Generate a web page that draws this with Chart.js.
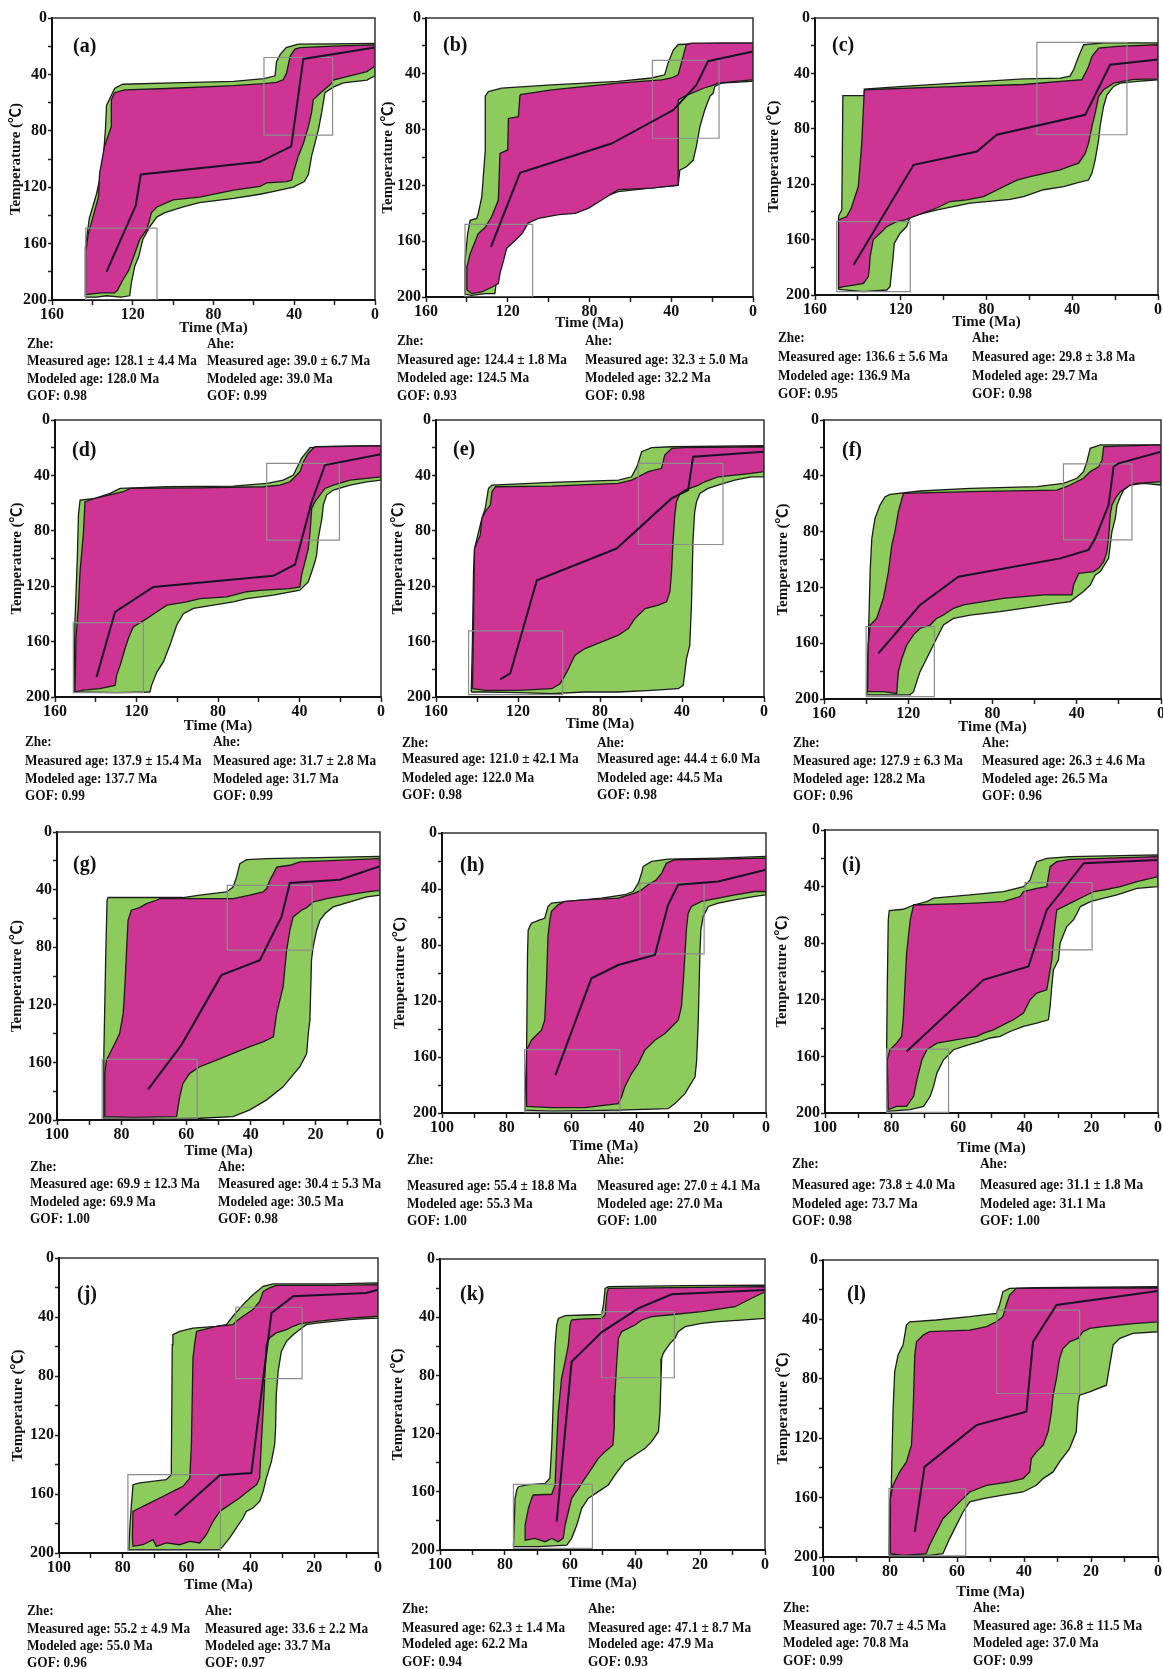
<!DOCTYPE html>
<html>
<head>
<meta charset="utf-8">
<script src="https://cdn.jsdelivr.net/npm/chart.js@4.4.1/dist/chart.umd.min.js"></script>
<style>
  body { margin: 0; width: 1163px; height: 1669px; overflow: hidden; background: #fff; position: relative;
         font-family: 'Liberation Serif', 'Times New Roman', serif; color: #111; }
  canvas { position: absolute; }
  .lbl { position: absolute; font-size: 20px; font-weight: bold; line-height: 22px; transform: scaleY(1.1); }
  .st { position: absolute; white-space: nowrap; font-size: 13.3px; font-weight: bold; line-height: 16px;
        transform: scaleY(1.14); transform-origin: left center; }
</style>
</head>
<body>
<script>
// ── Envelopes: [time Ma, temperature °C] ──
const greenA = [[143.5,198],[143.5,163],[141.5,142],[138,125],[136,112],[134.5,98],[133.5,78],[133,62],[131,56],[129,50],[125,47],[100,46],[70,45],[55,43],[49.5,41],[48.8,31],[47,26],[44,21],[38,18.5],[20,18.3],[0,18],[0,41],[4,44],[15.7,46],[20.7,49],[24.8,53],[26.4,67],[28,79],[31.4,98],[33,111],[35,116],[40.5,120],[50,123],[57,125],[70,128],[87,131],[95,134],[104,138],[108,141],[111.5,148],[115,157],[117,169],[119,176],[120.7,188],[121.5,197],[126,198],[133,197],[138,198]];
const pinkA = [[143.3,196],[143.3,166],[142,153],[139.7,141],[137,127],[136.4,110],[134,91],[130.6,77],[130.6,58],[129,53],[124,51],[103,50],[70,48],[55,46.6],[48.8,45.7],[45.5,43.8],[43.8,39],[42,27],[39.7,22],[37,21],[20.7,20],[0,19],[0,34],[4,38],[12.4,41],[20.7,44],[22,47],[27,53],[30.6,58],[31.4,67],[33,77],[35.5,89],[38,98],[40.5,110],[41.3,115],[43.8,116],[53.7,117],[57,119.5],[70,122],[87,127],[100,129],[108,134],[110.7,138],[113,150],[116.5,157],[119,167],[122,179],[125,186],[127.5,193],[129,195],[136,195],[142,196]];
const pathA = [[0,21],[35.5,29],[41.5,91],[57,102],[116,111],[118.5,133],[133,180]];
const boxesA = [[21,55,28,83],[108,143.3,149,200]];

const greenB = [[140.9,198],[140.9,174],[139.6,154.5],[138.4,145],[135.2,143.7],[134.4,140],[132.7,128],[131,95],[131,56],[129.5,52.7],[123,50.3],[98.5,48],[66,45.5],[49.7,43],[43.2,40.7],[41.5,32],[39,23],[36.6,19],[17,18],[0,18],[0,44.3],[0.8,45.5],[15.5,46.7],[18.7,49],[19.5,54],[21,56],[23.6,66],[26,78],[27.7,92],[29.3,102],[32.6,106.6],[35.8,109],[36.6,120],[44.8,121],[66,124.5],[72.5,128],[75.7,130.5],[98.5,133],[105,135],[108,140],[111.6,145],[114.8,152],[118,159],[121,164],[123,169],[123.8,176],[125.5,188],[126.3,197.6],[131,197.6],[137.6,198.8]];
const pinkB = [[114,55],[114.8,70.7],[119.7,72],[120,94.6],[123.8,97],[124.6,130.5],[127.9,142.5],[131,150],[134.4,154.5],[138.4,169],[140,178.6],[140,195],[137.6,197.6],[132.7,196.4],[127.9,193],[124.6,190.4],[123.8,183],[122,173.6],[120.5,165],[116,159],[113,154.5],[110,147],[105,143.7],[95,141],[87,140],[80.6,136.5],[74,130.5],[66,123],[49.7,122],[36.6,119.8],[36.6,58.7],[33.4,56],[23.6,50],[20.4,48.6],[17,46.7],[0.8,44.3],[0,44.3],[0,18],[30,18],[32.6,19],[34.2,27.5],[36.6,40.7],[40,43],[44.8,44.3],[66,46.7],[98.5,51.5]];
const pathB = [[0,24],[22,31],[27.7,48],[39,66],[69.2,90],[114,111],[128.2,164]];
const boxesB = [[16.6,49.2,30.4,86.2],[107.8,140.9,148,200]];

const greenC = [[149,196],[149,143],[147.5,138.5],[147,56],[137,56],[137,51.3],[118.8,49.4],[62.7,44],[45.6,43.4],[41,42],[39.3,37],[37,27.7],[34.7,19.3],[25.4,18],[0,18],[0,44.6],[9.8,45.8],[17.6,47],[20.7,49.4],[23.8,55.4],[25.4,63.9],[27,78],[27.7,88],[29.3,102.4],[30.8,112],[32.4,117],[37.8,119],[44,121.7],[53.4,124],[62.7,129],[69,131],[87.6,133.7],[103,138.5],[115.6,143.4],[117.2,150.6],[120.3,155.4],[123,162.7],[123.7,174.7],[125,194],[126.5,196.4],[137.4,197.6]];
const pinkC = [[137,51.8],[103,49.9],[62.7,48],[45.6,45.8],[35.5,44.6],[33.9,39.8],[32.4,35],[30.8,27.7],[27.7,21.7],[19,20.5],[0,19.3],[0,44],[11.4,44.3],[20.7,47],[25.4,51.8],[27.7,56.6],[29.3,68.7],[30.8,78.3],[32.4,90.4],[33.9,97.6],[37,104.8],[41,107],[45.6,109.6],[59.6,114.5],[65.8,117],[72,121.7],[81.4,129],[89.2,131.3],[97,132.5],[103,137],[110,141],[118,145.8],[121.9,147],[126.5,150.6],[129.6,155.4],[132.8,160],[134.3,172.3],[134.6,179.5],[135.1,186.7],[137.4,191.6],[142,192.8],[146.8,194],[149,195],[149,145.8],[145.2,143.4],[143,137],[139.8,121.7],[138.2,90.4]];
const pathC = [[0,30],[22.3,33.7],[33.9,69.9],[75.2,84.3],[84.5,96.4],[114,106],[142,178.3]];
const boxesC = [[14.5,56.5,17.6,84.3],[115.6,149.9,147,197.6]];

const greenD = [[150.7,196.4],[150.2,145.8],[149,97.6],[148.5,68.7],[147.7,57.8],[140.4,56.6],[133,53],[128,49.4],[105,48.2],[72.5,47.7],[56,45.8],[48,43.4],[43,39.8],[40.6,32.5],[39,27.7],[34.8,20],[26.7,19.3],[0,18.6],[0,43.4],[7,44.6],[15.2,47],[23.4,50.6],[26.7,54.2],[28.3,61.4],[29,71],[30.8,85.5],[31.6,97.6],[32.4,102.4],[34,109.6],[35.7,116.9],[39.8,122.9],[52.8,126.5],[65.9,129],[72.5,131.3],[82.3,133.7],[92,136],[97,139.8],[100.3,148.2],[103.6,162.7],[106.8,174.7],[110,182],[112.6,191.6],[113.4,196.4],[129.7,196.9]];
const pinkD = [[140.4,56.6],[126.5,51.8],[123,49.4],[88.8,49],[57.8,48.2],[49.6,47],[44.7,44.6],[42.2,41],[39.8,37.3],[38,30],[35.7,24],[32.4,19.3],[0,18.6],[0,41],[15.2,43.4],[23.4,47],[27.5,49.4],[30,54.2],[32.4,59],[34,63.9],[34.8,80.7],[35.7,92.8],[37.3,102.4],[39,112],[39.8,120.5],[44.7,121.7],[59.4,123],[65.9,124],[75.7,127.7],[88.8,129],[95.4,131.3],[105,133.7],[110,138.5],[115,143.4],[121.6,149.4],[124,157.8],[125.6,165],[128,177],[129.7,184],[130.5,191.6],[138,194],[146,195],[150.2,196.4],[149.7,157.8],[148.5,133.7],[147.7,109.6],[146,80.7],[145.3,59]];
const pathD = [[0,24.8],[27.5,32.5],[34,59],[42.2,104.3],[52.8,112.5],[111.7,120.5],[130.5,138.5],[139.6,185.5]];
const boxesD = [[20.4,56.1,31.3,86.7],[116.6,151,146.3,196.9]];

const greenE = [[142.8,196.4],[142.2,157.8],[141.7,109.6],[141.2,92.8],[139.2,80.7],[137.6,71],[136,63.9],[134.4,49.4],[132.7,47],[103.5,45],[71,43.4],[64.6,41],[62,33.7],[59.7,22.9],[54.8,20],[45,19.3],[0,18.6],[0,41],[6.2,41],[14.3,43.4],[22.4,47],[27.3,49.4],[31.3,53],[32.9,59],[33.8,66.3],[34.6,85.5],[35.4,133.7],[36.2,162.7],[37.8,172.3],[38.6,182],[39.4,191.6],[41.9,194],[54.8,195.2],[71,196.4],[87.3,196.4],[103.5,197.6],[119.8,196.9],[136,196.4]];
const pinkE = [[142.2,194],[141.7,145.8],[141.2,92.8],[138.4,83],[137.6,71],[136,66.3],[133.5,61.4],[132.7,51.8],[131,48.2],[103.5,47.7],[71,45.8],[64.6,43.4],[61.3,41],[56.5,37.3],[50,34.9],[48.4,25.3],[45,20.5],[38.6,20],[0,19.3],[0,37.3],[6.2,38.6],[22.4,41],[28.9,44.6],[32,47],[38.6,50.6],[41,53],[42.7,59],[43.5,68.7],[44.3,85.5],[45.1,109.6],[45.9,124],[47.5,131.3],[51.6,133.7],[58,136.1],[63,143.4],[66.2,150.6],[71,155.4],[79.2,160.2],[87.3,165],[92.2,169.9],[96.2,182],[99.5,190.4],[103.5,194],[119.8,195.2],[136,195.2]];
const pathE = [[0,22.9],[34.6,26.5],[37,50.6],[45.1,56.6],[71.9,92.8],[110.8,115.7],[123.8,183],[128.7,187.2]];
const boxesE = [[20,61.3,31.3,89.9],[98.2,144.1,152.3,198.3]];

const greenF = [[139.7,197],[139,161.3],[138.1,108.7],[137.3,84.8],[135.8,70.5],[133.4,61],[131,55],[128.6,53.3],[114.4,50.9],[90.6,49],[58.9,47.8],[46.3,45.4],[39.9,41.8],[36.8,37],[35.2,29.9],[33.6,20.3],[28.8,17.9],[0,17.9],[0,46.6],[8.2,45.4],[14.6,46.6],[17.7,50.2],[19.3,55],[20.9,61],[21.7,70.5],[23.3,80],[24.1,89.6],[24.9,99.2],[28.8,108.7],[31.2,111.1],[33.6,118.3],[36.8,123],[43.1,130.2],[49.4,131.4],[76.4,137.4],[90.6,139.8],[98.5,142.2],[103.3,147],[106.5,156.5],[111.2,170.8],[114.4,180.4],[116,187.6],[117.5,194.7],[119.1,197],[130.2,197]];
const pinkF = [[122.3,52.6],[124.7,65.7],[126.3,80],[127.8,89.6],[129.4,108.7],[131.8,127.8],[135,142.2],[138.1,147],[139,161.3],[139.3,194.7],[131.8,194.7],[125.5,196],[124.7,180.4],[123,170.8],[120.7,161.3],[117.5,154],[114.4,149.3],[109.6,147],[106.5,142.2],[103.3,139.8],[98.5,135],[93.8,132.6],[74.8,127.8],[55.8,125.4],[42.3,125.4],[41.5,118.3],[39.1,110],[32,108.7],[29.6,106.3],[27.2,101.6],[25.7,94.4],[24.9,84.8],[24.1,68.1],[23.3,61],[21.7,56.2],[19.3,51.4],[14.6,46.6],[11.4,45.4],[0,44.2],[0,17.9],[27.2,19.1],[28,28.7],[29.6,33.5],[33.6,37],[36.8,41.8],[43.1,46.6],[49.4,50.2],[90.6,51.4]];
const pathF = [[0,22.7],[20.1,31.1],[22.5,33.5],[24.9,61],[31.2,84.8],[34.4,93.2],[47.8,99.2],[96.2,112.3],[114.4,132.6],[134.2,167.3]];
const boxesF = [[13.8,46.3,31.5,86],[107.6,140,148.1,198.3]];

const greenG = [[85.7,198.8],[85.5,153.8],[84.9,84.4],[84.5,47.4],[84.2,45.5],[76.4,45.5],[61,45.5],[55.8,43.9],[47.5,41.6],[45.5,38.2],[44.4,31.2],[43.4,22],[41.3,19.2],[35.1,18.5],[0,16.9],[0,43.9],[4.1,45.1],[9.3,48.6],[14.5,52],[17,56.6],[18.6,61.3],[19.6,68.2],[20.7,79.8],[21.2,89],[21.7,130.6],[22.2,139.9],[22.7,153.8],[24.8,163],[30,177],[35.1,186],[40.3,193],[45.5,197.7],[55.8,198.8],[66.1,199.3]];
const pinkG = [[85.2,197.7],[85.2,167.6],[84.7,158.4],[82.6,149.1],[80.6,139.9],[79.5,126],[79,107.5],[78.5,84.4],[78,61.3],[77,54.3],[74.4,52.5],[72.3,49.7],[69.2,47.4],[68.2,46.2],[45.5,46.2],[40.3,43.9],[36.2,41.6],[35.1,39.3],[34.1,33.5],[33,28.9],[32,24.3],[27.9,23.1],[24.8,20.8],[0,18.5],[0,40.5],[4.1,41.6],[10.3,43.9],[16.5,46.2],[18.6,47.4],[20.7,48.6],[22.7,52.5],[24.3,54.3],[26.9,59],[27.9,68.2],[28.9,82.1],[29.4,93.6],[30,107.5],[31,116.8],[32,126],[33,142.2],[36.2,145.7],[40.3,149.1],[45.5,153.8],[50.6,158.4],[55.8,163],[58.9,167.6],[61,174.6],[62,183.8],[63,197.7],[76.4,198.2]];
const pathG = [[0,23.8],[12.4,33.1],[27.9,35.4],[30.5,59],[37.2,89],[49.1,99.4],[61.5,148],[71.8,178.7]];
const boxesG = [[21,47.3,37,82.1],[56.6,86,157.9,198.8]];

const greenH = [[74.5,198],[73.9,157.5],[73.6,85.9],[73.4,69.2],[72.4,64.4],[69.8,62],[68.3,60.9],[67.3,52.5],[66.2,50.1],[61.1,48.9],[50.8,46.5],[43.6,44.1],[41,41.8],[39.4,35.8],[38.4,28.6],[37.9,23.9],[35.3,20.3],[30.2,18.6],[14.7,17.9],[0,16.7],[0,44.2],[3.4,45.3],[9.6,47.7],[14.7,50.1],[17.8,52.5],[19.4,59.7],[20.1,69.2],[20.4,85.9],[20.9,133.7],[21.4,162.3],[21.9,174.2],[25,186.2],[28.1,193.3],[30.2,196.9],[45.6,198],[66.2,198.6]];
const pinkH = [[73.9,193.3],[73.9,155.1],[72.4,148],[69.3,140.8],[68.3,133.7],[67.8,109.8],[67.3,74],[66.7,62],[66.2,56],[64.2,51.3],[62.1,48.9],[55.9,47.7],[45.6,46.5],[40.5,43],[38.4,40.6],[36.4,37],[33.8,33.4],[32.2,28.6],[30.7,21.5],[28.1,19.1],[14.7,18.6],[0,17.9],[0,41.8],[3.4,41.8],[9.6,44.2],[14.7,46.5],[19.9,48.9],[23,52.5],[24,57.3],[24.5,66.8],[25,85.9],[25.5,105],[26.1,124.1],[27.1,133.7],[29.1,138.4],[31.2,143.2],[34.3,148],[37.4,155.1],[39.4,164.7],[41.5,171.8],[43.6,181.4],[44.6,188.5],[45.6,193.3],[55.9,196.2],[66.2,196.2],[73.9,195.2]];
const pathH = [[0,26.3],[14.7,34.6],[27.1,37],[30.2,51.3],[34.3,87.1],[45.6,94.3],[53.9,103.8],[65,173]];
const boxesH = [[19.1,38.9,35.8,86.4],[45.1,74.5,154.7,199.3]];

const greenI = [[81.5,198.8],[81.5,157.6],[81.3,110.6],[81,63.5],[80.7,57],[76.5,56],[73.4,53],[69.4,50.6],[67.4,48.2],[56.4,45.9],[46.4,43.5],[40.4,40],[38.4,35.3],[37.4,28.2],[36.4,22.4],[33.4,20],[26.4,18.8],[0,17.6],[0,40],[6.3,41.2],[9.3,43.5],[12.3,45.9],[16.3,48.2],[20.3,50.6],[23.3,54.1],[24.3,58.8],[25.4,63.5],[27.4,68.2],[28.4,74.1],[29.4,80],[29.9,91.8],[30.9,96.5],[31.4,98.8],[31.9,110.6],[32.4,124.7],[32.9,134.1],[36.4,136.5],[40.4,138.8],[44.4,142.4],[47.4,145.9],[50.4,147],[53.4,149.4],[58.4,152.9],[61.4,155.3],[64.4,162.4],[66.4,171.8],[67.4,181.2],[68.4,188.2],[70.4,195.3],[74.4,197.6]];
const pinkI = [[81,197.6],[81.3,162.4],[80.5,155.3],[78.5,150.6],[77,145.9],[76.5,134.1],[76,110.6],[75.5,87.1],[74.4,63.5],[73.4,53],[56.4,51.8],[46.4,50.6],[41.4,47],[40.4,43.5],[36.4,41.2],[33.4,40],[32.9,32.9],[32.4,25.9],[30.4,22.4],[26.4,20.7],[0,18.8],[0,32.9],[6.3,36.5],[11.3,40],[16.3,42.4],[19.3,43.5],[22.3,47],[25.4,50.6],[28.4,54.1],[30.4,56.5],[30.9,65.9],[31.4,77.6],[31.9,91.8],[32.9,105.9],[33.4,112.9],[36.4,115.3],[38.4,120],[40.4,129.4],[43.4,134.1],[46.4,137.6],[49.4,141.2],[52.4,143.5],[54.4,145.9],[60.4,148.2],[66.4,150.6],[69.4,155.3],[70.9,162.4],[72.4,176.5],[73.4,188.2],[75.5,195.3],[78.5,195.3]];
const pathI = [[0,21.2],[22.3,23.5],[29.4,44.7],[33.4,56.5],[38.9,96.5],[52.4,105.9],[75.5,156.5]];
const boxesI = [[19.8,39.9,37.2,84.7],[62.9,81.5,154.8,199.5]];

const greenJ = [[78.1,197.7],[77.8,183],[77.3,167.2],[76.8,153.7],[74.7,152.5],[66.4,150.3],[64.8,146.9],[64.5,58.8],[64.3,52],[62.2,49.7],[58,47.5],[50.7,46.3],[47.5,45.2],[45.5,39.5],[42.3,31.6],[39.2,24.9],[36,19.2],[32.9,17.6],[14.1,17.6],[0,16.9],[0,40.7],[3.7,41.1],[8.9,41.8],[14.1,42.9],[19.3,44.1],[22.5,45.2],[24.6,48.6],[26.6,52],[28.7,56.5],[30.3,63.3],[31.3,76.8],[31.9,92.7],[32.1,115.3],[32.4,126.6],[33.4,137.9],[35,149.2],[36,158.2],[37.1,165],[39.2,169.5],[41.3,171.8],[42.3,176.3],[44.4,183],[46.5,189.8],[48.6,195.5],[49.6,197.7],[66.4,197.7]];
const pinkJ = [[56.9,49.7],[57.5,58.8],[58,67.8],[58.5,126.6],[59,149.2],[61.1,154.8],[64.3,158.2],[68.4,162.7],[72.6,167.2],[74.7,169.5],[76.8,171.8],[77,190],[76.8,195.5],[73.7,194.4],[70.5,191],[69.5,195.5],[66.4,193.2],[62.2,194.4],[59,192.1],[55.9,193.2],[53.8,187.6],[51.7,178.5],[49.6,171.8],[46.5,167.2],[43.4,162.7],[40.2,157.1],[38.1,153.7],[37.1,149.2],[36.6,126.6],[36,104],[35.5,81.4],[35,58.8],[34,54.2],[31.9,50.8],[28.7,48.6],[26.6,46.3],[24.6,44.7],[19.3,42.9],[14.1,41.8],[8.9,40.7],[0,39.5],[0,18.1],[14.1,18.5],[31.9,18.5],[34,20.3],[36,22.6],[37.1,29.4],[39.2,35],[42.3,39.5],[44.4,42.9],[45.5,45.2],[50.7,46.3]];
const pathJ = [[0,21.5],[3.7,23.7],[26.6,26],[33.4,37.3],[39.7,145.8],[49.6,147.3],[63.7,174.5]];
const boxesJ = [[23.8,44.6,33.4,81.8],[49.4,78.4,146.9,198.2]];

const greenK = [[77.4,197.7],[76.9,164.5],[76.4,158.8],[75.9,156.5],[73.3,155.3],[67.7,154.2],[66.2,150.7],[65.6,127.8],[65.1,93.5],[64.6,59.1],[64.1,45.4],[63.6,40.8],[61.5,38.9],[55.4,38.5],[50.3,38],[49.7,31.6],[49.2,20.2],[48.2,19],[24.6,18.3],[0,17.9],[0,40.8],[6.2,41.9],[14.4,43.1],[19.5,44.2],[24.6,46.5],[26.7,49.9],[27.7,54.5],[29.2,58],[30.3,61.4],[31.3,64.8],[31.8,68.3],[32,82],[32.3,104.9],[32.8,118.7],[34.9,125.5],[36.9,130.1],[40,134.7],[43.1,139.3],[46.2,148.5],[48.2,155.3],[51.3,159.9],[54.4,164.5],[56.4,171.4],[57.9,182.8],[59.5,192],[61,196.6],[69.7,197.7]];
const pinkK = [[59.5,41.9],[55.4,41.2],[50.3,40.8],[49.2,38.5],[48.7,24.7],[48.2,20.2],[0,19],[0,22.5],[4.1,27],[9.2,32.8],[19.5,36.2],[29.7,38.5],[34.9,39.6],[37.9,41.9],[40,45.4],[42.1,47.7],[44.1,49.9],[45.1,54.5],[45.6,70.6],[46.2,93.5],[46.4,116.4],[46.8,127.8],[49.2,132.4],[51.3,137],[53.3,143.9],[55.4,150.7],[57.4,157.6],[59.5,164.5],[60.5,173.7],[61.5,182.8],[62.1,192],[63.6,194.3],[65.6,192],[67.7,194.3],[70.8,192],[73.8,193.2],[73.8,182.8],[72.8,171.4],[71.8,164.5],[71.3,162.2],[65.6,161.7],[64.6,155.3],[64.1,127.8],[63.6,104.9],[62.6,82],[61.5,70.6],[60.5,59.1],[60,45.4]];
const pathK = [[0,21.3],[28.7,24.3],[39,33.9],[50.3,50.4],[59.5,70.6],[64.1,180.5]];
const boxesK = [[27.9,50.3,36.2,81.6],[53.1,77.4,154.9,198.9]];

const greenL = [[80.3,198.9],[80.1,165.2],[79.6,151.7],[79.1,102.2],[78.6,75.3],[77.6,64],[76.1,57.3],[75.1,43.8],[74.1,41.6],[66.2,40.4],[56.2,38.2],[48.3,36],[47.3,30.3],[46.3,21.3],[44.3,19.1],[36.3,18.7],[0,18],[0,48.3],[7.5,49.4],[11.4,52.8],[13.4,57.3],[14.4,70.8],[15.4,84.3],[20.4,88.8],[23.4,91],[23.9,97.8],[24.4,115.7],[26.4,127],[29.4,136],[31.3,142.7],[34.3,147.2],[36.3,151.7],[40.3,156.2],[46.3,158.4],[52.2,160.7],[56.2,162.9],[58.2,169.7],[60.2,178.7],[62.2,187.6],[64.2,197.8],[68.2,198.9]];
const pinkL = [[79.9,197.8],[79.9,160.7],[79.1,151.7],[77.1,142.7],[75.1,136],[73.6,124.7],[73.1,102.2],[72.6,64],[72.1,55.1],[70.1,50.6],[68.2,48.3],[56.2,47.2],[51.2,44.9],[48.3,41.6],[46.3,38.2],[45.3,30.3],[44.3,23.6],[42.3,19.1],[0,18.7],[0,41.6],[6.5,42.7],[16.4,44.9],[20.4,46.1],[22.4,48.3],[23.9,52.8],[26.4,55.1],[28.4,59.6],[29.4,66.3],[30.3,79.8],[31.3,91],[31.8,102.2],[32.8,115.7],[34.3,124.7],[36.3,129.2],[37.8,133.7],[38.3,142.7],[40.3,147.2],[44.3,149.4],[51.2,151.7],[56.2,156.2],[59.2,162.9],[61.2,167.4],[64.2,174.2],[66.2,183.1],[68.2,192.1],[69.2,197.8],[76.1,199]];
const pathL = [[0,20.9],[30.3,30.3],[37.3,55.1],[39.3,102.2],[54.2,111.2],[69.7,139.3],[72.6,183.1]];
const boxesL = [[23.4,48.1,33.7,89.9],[57.4,80.3,153.9,199.3]];

// ── Panel metadata ──
const panelNames = ['(a)','(b)','(c)','(d)','(e)','(f)','(g)','(h)','(i)','(j)','(k)','(l)'];
const timeMax = [160,160,160,160,160,160,100,100,100,100,100,100];
const zheMeasured = ['128.1 ± 4.4','124.4 ± 1.8','136.6 ± 5.6','137.9 ± 15.4','121.0 ± 42.1','127.9 ± 6.3','69.9 ± 12.3','55.4 ± 18.8','73.8 ± 4.0','55.2 ± 4.9','62.3 ± 1.4','70.7 ± 4.5'];
const zheModeled = ['128.0','124.5','136.9','137.7','122.0','128.2','69.9','55.3','73.7','55.0','62.2','70.8'];
const zheGOF = ['0.98','0.93','0.95','0.99','0.98','0.96','1.00','1.00','0.98','0.96','0.94','0.99'];
const aheMeasured = ['39.0 ± 6.7','32.3 ± 5.0','29.8 ± 3.8','31.7 ± 2.8','44.4 ± 6.0','26.3 ± 4.6','30.4 ± 5.3','27.0 ± 4.1','31.1 ± 1.8','33.6 ± 2.2','47.1 ± 8.7','36.8 ± 11.5'];
const aheModeled = ['39.0','32.2','29.7','31.7','44.5','26.5','30.5','27.0','31.1','33.7','47.9','37.0'];
const aheGOF = ['0.99','0.98','0.98','0.99','0.98','0.96','0.98','1.00','1.00','0.97','0.93','0.99'];

const envelopes = [
  [greenA, pinkA, pathA, boxesA], [greenB, pinkB, pathB, boxesB], [greenC, pinkC, pathC, boxesC],
  [greenD, pinkD, pathD, boxesD], [greenE, pinkE, pathE, boxesE], [greenF, pinkF, pathF, boxesF],
  [greenG, pinkG, pathG, boxesG], [greenH, pinkH, pathH, boxesH], [greenI, pinkI, pathI, boxesI],
  [greenJ, pinkJ, pathJ, boxesJ], [greenK, pinkK, pathK, boxesK], [greenL, pinkL, pathL, boxesL]
];

// ── Page layout (pixels) ──
const layout = [
  { plot: [52, 18, 375, 300],     label: [21, 26], xGap: 28, yGap: 36, cols: [27, 207],  rows: [343, 360, 378, 395] },
  { plot: [426, 18, 753, 297],    label: [17, 25], xGap: 26, yGap: 38, cols: [397, 585], rows: [340, 359, 377, 395] },
  { plot: [815, 18, 1158, 295],   label: [17, 25], xGap: 27, yGap: 41, cols: [778, 972], rows: [337, 356, 375, 393] },
  { plot: [55, 420, 381, 697],    label: [17, 28], xGap: 29, yGap: 38, cols: [25, 213],  rows: [741, 760, 778, 795] },
  { plot: [436, 420, 764, 697],   label: [17, 27], xGap: 27, yGap: 38, cols: [402, 597], rows: [742, 758, 777, 794] },
  { plot: [824, 420, 1161, 699],  label: [18, 28], xGap: 28, yGap: 41, cols: [793, 982], rows: [742, 760, 778, 795] },
  { plot: [57, 832, 380, 1120],   label: [16, 30], xGap: 31, yGap: 40, cols: [30, 218],  rows: [1166, 1183, 1201, 1218] },
  { plot: [442, 833, 766, 1113],  label: [18, 30], xGap: 33, yGap: 42, cols: [407, 597], rows: [1159, 1185, 1203, 1220] },
  { plot: [825, 830, 1158, 1113], label: [17, 33], xGap: 35, yGap: 43, cols: [792, 980], rows: [1163, 1184, 1203, 1220] },
  { plot: [59, 1258, 378, 1553],  label: [18, 34], xGap: 32, yGap: 41, cols: [27, 205],  rows: [1610, 1628, 1645, 1662] },
  { plot: [440, 1259, 765, 1550], label: [20, 33], xGap: 33, yGap: 42, cols: [402, 588], rows: [1608, 1627, 1643, 1661] },
  { plot: [823, 1260, 1158, 1557],label: [24, 32], xGap: 35, yGap: 40, cols: [783, 973], rows: [1607, 1625, 1642, 1660] }
];

const SERIF = "'Liberation Serif', 'Times New Roman', 'Noto Sans CJK SC', serif";
const GREEN = '#8dcb5c';
const PINK = '#cd3493';
const AX_W = 56, AX_H = 46, PAD_T = 12, PAD_R = 8;

const toXY = pts => pts.map(p => ({ x: p[0], y: p[1] }));
const closed = pts => toXY(pts.concat([pts[0]]));
const rect = b => toXY([[b[0], b[2]], [b[1], b[2]], [b[1], b[3]], [b[0], b[3]], [b[0], b[2]]]);

// top and right edges of the plot frame
const framePlugin = {
  id: 'frame',
  afterDraw(chart) {
    const { ctx, chartArea: a } = chart;
    ctx.save();
    ctx.strokeStyle = '#333';
    ctx.lineWidth = 1.5;
    ctx.beginPath();
    ctx.moveTo(a.left, a.top); ctx.lineTo(a.right, a.top); ctx.lineTo(a.right, a.bottom);
    ctx.stroke();
    ctx.restore();
  }
};

function addText(cls, text, left, top) {
  const el = document.createElement('div');
  el.className = cls;
  el.textContent = text;
  el.style.left = left + 'px';
  el.style.top = top + 'px';
  document.body.appendChild(el);
}

function makePanel(i) {
  const L = layout[i];
  const [pl, pt, pr, pb] = L.plot;
  const [green, pink, path, boxes] = envelopes[i];
  const xMax = timeMax[i];
  const step = xMax === 160 ? 20 : 10;

  const cv = document.createElement('canvas');
  const w = (pr - pl) + AX_W + PAD_R, h = (pb - pt) + PAD_T + AX_H;
  cv.width = w; cv.height = h;
  cv.style.width = w + 'px'; cv.style.height = h + 'px';
  cv.style.left = (pl - AX_W) + 'px';
  cv.style.top = (pt - PAD_T) + 'px';
  document.body.appendChild(cv);

  const datasets = [
    { data: toXY(path), borderColor: '#161228', borderWidth: 2, fill: false, order: 0 },
    ...boxes.map(b => ({ data: rect(b), borderColor: '#8c8c8c', borderWidth: 1.2, fill: false, order: 1 })),
    { data: closed(pink), backgroundColor: PINK, borderColor: '#1c1c1c', borderWidth: 1.3, fill: 'shape', order: 2 },
    { data: closed(green), backgroundColor: GREEN, borderColor: '#1c1c1c', borderWidth: 1.3, fill: 'shape', order: 3 }
  ];

  new Chart(cv, {
    type: 'line',
    data: { datasets },
    options: {
      responsive: false, animation: false, devicePixelRatio: 1,
      layout: { padding: { left: 0, top: PAD_T, right: PAD_R, bottom: 0 } },
      elements: { point: { radius: 0, hoverRadius: 0 }, line: { tension: 0 } },
      plugins: { legend: { display: false }, tooltip: { enabled: false } },
      scales: {
        x: {
          type: 'linear', min: 0, max: xMax, reverse: true,
          ticks: { stepSize: step, autoSkip: false, maxRotation: 0, padding: 0, color: '#111',
                   font: { family: SERIF, size: 16, weight: 'bold' },
                   callback: v => (v % (step * 2) === 0 ? v : '') },
          grid: { drawOnChartArea: false, drawTicks: true, tickLength: 5, tickColor: '#222', tickWidth: 1.5 },
          border: { display: true, color: '#111', width: 2 },
          title: { display: true, text: 'Time (Ma)', color: '#111',
                   font: { family: SERIF, size: 15, weight: 'bold' },
                   padding: { top: 0, bottom: AX_H - 9 - L.xGap } },
          afterFit: s => { s.height = AX_H; }
        },
        y: {
          min: 0, max: 200, reverse: true,
          ticks: { stepSize: 20, autoSkip: false, padding: 1, color: '#111',
                   font: { family: SERIF, size: 16, weight: 'bold' },
                   callback: v => (v % 40 === 0 ? v : '') },
          grid: { drawOnChartArea: false, drawTicks: true, tickLength: 4, tickColor: '#222', tickWidth: 1.5 },
          border: { display: true, color: '#111', width: 2 },
          title: { display: true, text: 'Temperature (℃)', color: '#111',
                   font: { family: SERIF, size: 15, weight: 'bold' },
                   padding: { top: AX_W - L.yGap - 9, bottom: 0 } },
          afterFit: s => { s.width = AX_W; }
        }
      }
    },
    plugins: [framePlugin]
  });

  addText('lbl', panelNames[i], pl + L.label[0], pt + L.label[1] - 11);

  const [cz, ca] = L.cols;
  const r = L.rows.map(y => y - 8);
  addText('st', 'Zhe:', cz, r[0]);
  addText('st', 'Measured age: ' + zheMeasured[i] + ' Ma', cz, r[1]);
  addText('st', 'Modeled age: ' + zheModeled[i] + ' Ma', cz, r[2]);
  addText('st', 'GOF: ' + zheGOF[i], cz, r[3]);
  addText('st', 'Ahe:', ca, r[0]);
  addText('st', 'Measured age: ' + aheMeasured[i] + ' Ma', ca, r[1]);
  addText('st', 'Modeled age: ' + aheModeled[i] + ' Ma', ca, r[2]);
  addText('st', 'GOF: ' + aheGOF[i], ca, r[3]);
}

layout.forEach((_, i) => makePanel(i));
</script>
</body>
</html>
